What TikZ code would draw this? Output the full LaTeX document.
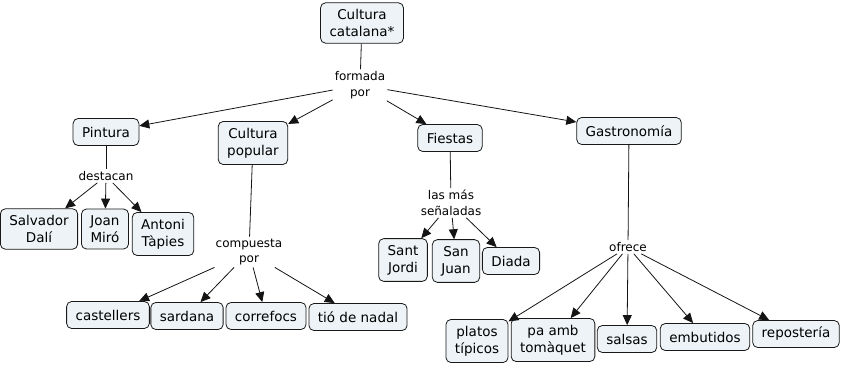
\documentclass[tikz,border=0pt]{standalone}
\usepackage{fontspec}
\setmainfont{DejaVu Sans}
\usetikzlibrary{arrows.meta}
\definecolor{mapFill}{RGB}{237,243,246}
\definecolor{mapBorder}{RGB}{25,25,25}
\definecolor{mapLine}{RGB}{20,20,20}

\begin{document}
\begin{tikzpicture}[
  x=1pt, y=-1pt,
  concept/.style={rectangle, rounded corners=5pt, draw=mapBorder, fill=mapFill,
                  line width=0.8pt, align=center, inner xsep=9pt, inner ysep=6.5pt,
                  minimum height=27pt, font=\fontsize{13.5}{17}\selectfont},
  linkword/.style={align=center, inner sep=2pt, font=\fontsize{12}{15.5}\selectfont},
  conn/.style={mapLine, line width=0.8pt},
  arr/.style={conn, -{Triangle[length=10pt,width=9pt]}},
]
\useasboundingbox (0,0) rectangle (841,367);

%% top concept
\node[concept] (catalana) at (362,23) {Cultura\\catalana*};
\node[linkword] (formada) at (360,85) {formada\\por};
\draw[conn] (catalana) -- (formada);

%% second level
\node[concept] (pintura) at (106,132) {Pintura};
\node[concept] (popular) at (253,143) {Cultura\\popular};
\node[concept] (fiestas) at (450,138) {Fiestas};
\node[concept] (gastro)  at (629,131) {Gastronomía};
\foreach \t in {pintura,popular,fiestas,gastro}
  \draw[arr] (formada) -- (\t);

%% Pintura
\node[linkword] (destacan) at (106,176) {destacan};
\draw[conn] (pintura) -- (destacan);
\node[concept] (dali)   at (39,229)  {Salvador\\Dalí};
\node[concept] (miro)   at (105,229) {Joan\\Miró};
\node[concept] (tapies) at (163,234) {Antoni\\Tàpies};
\foreach \t in {dali,miro,tapies}
  \draw[arr] (destacan) -- (\t);

%% Cultura popular
\node[linkword] (compuesta) at (249,252) {compuesta\\por};
\draw[conn] (popular) -- (compuesta);
\node[concept] (castellers) at (108,315) {castellers};
\node[concept] (sardana)    at (187,316) {sardana};
\node[concept] (correfocs)  at (266,316) {correfocs};
\node[concept] (tio)        at (358,317) {tió de nadal};
\foreach \t in {castellers,sardana,correfocs,tio}
  \draw[arr] (compuesta) -- (\t);

%% Fiestas
\node[linkword] (senaladas) at (451,203) {las más\\señaladas};
\draw[conn] (fiestas) -- (senaladas);
\node[concept] (jordi) at (403,260) {Sant\\Jordi};
\node[concept] (juan)  at (456,261) {San\\Juan};
\node[concept] (diada) at (511,261) {Diada};
\foreach \t in {jordi,juan,diada}
  \draw[arr] (senaladas) -- (\t);

%% Gastronomia
\node[linkword] (ofrece) at (628,247) {ofrece};
\draw[conn] (gastro) -- (ofrece);
\node[concept] (platos)     at (477,341) {platos\\típicos};
\node[concept] (tomaquet)   at (553,340) {pa amb\\tomàquet};
\node[concept] (salsas)     at (627,339) {salsas};
\node[concept] (embutidos)  at (705,337) {embutidos};
\node[concept] (reposteria) at (796,334) {repostería};
\foreach \t in {platos,tomaquet,salsas,embutidos,reposteria}
  \draw[arr] (ofrece) -- (\t);

\end{tikzpicture}
\end{document}
